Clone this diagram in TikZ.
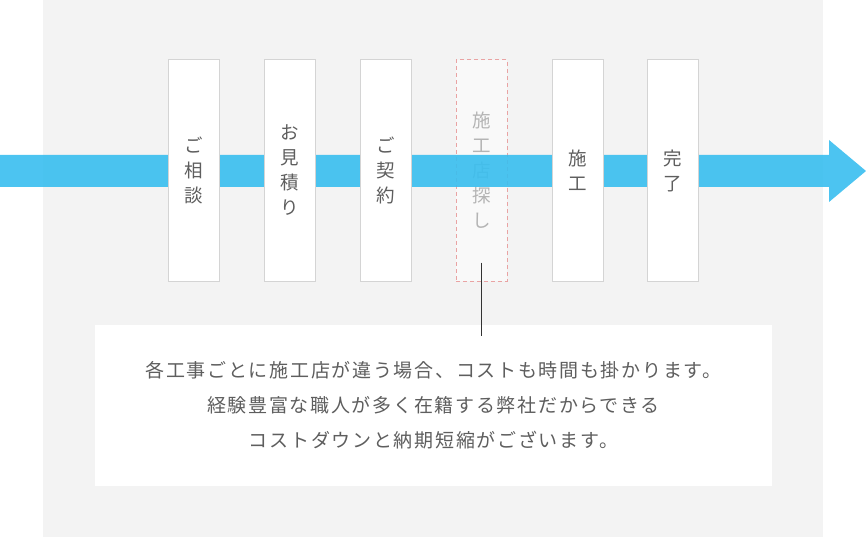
\documentclass[tikz,border=0pt]{standalone}
\usepackage{fontspec}
\newfontfamily\jp{Noto Sans CJK JP}
\newfontfamily\jpsp[LetterSpace=9]{Noto Sans CJK JP}
\definecolor{bggray}{HTML}{F3F3F3}
\definecolor{arrowblue}{HTML}{38BEEF}
\definecolor{boxline}{HTML}{D4D4D4}
\definecolor{txt}{HTML}{5E5E5E}
\definecolor{paletxt}{HTML}{B4B4B4}
\definecolor{dashred}{HTML}{E9A3A3}
\definecolor{pendfill}{HTML}{F9F9F9}
\definecolor{linedark}{HTML}{333333}
\begin{document}
\begin{tikzpicture}[x=1pt,y=-1pt,
  stepbox/.style={draw=boxline, line width=1pt, fill=white, minimum width=51pt,
    minimum height=221pt, inner sep=0pt, text=txt, align=center,
    font=\jp\fontsize{18.5}{25}\selectfont},
  pendbox/.style={stepbox, draw=dashred, dash pattern=on 4pt off 3pt,
    fill=pendfill, text=paletxt},
  notebox/.style={fill=white, minimum width=677pt, minimum height=161pt,
    inner sep=0pt, text=txt, align=center, font=\jpsp\fontsize{19}{35}\selectfont},
  link/.style={draw=linedark, line width=1pt}
]
\useasboundingbox (0,0) rectangle (866,537);
\fill[bggray] (43,0) rectangle (823,537);
\node[pendbox] (s4) at (481.5,170.5) {施\\工\\店\\探\\し};
\fill[arrowblue, opacity=0.9] (0,155) -- (829,155) -- (829,140) -- (866,171) -- (829,202)
  -- (829,187) -- (0,187) -- cycle;
\node[stepbox] (s1) at (193.5,170.5) {ご\\相\\談};
\node[stepbox] (s2) at (289.5,170.5) {お\\見\\積\\り};
\node[stepbox] (s3) at (385.5,170.5) {ご\\契\\約};
\node[stepbox] (s5) at (577.5,170.5) {施\\工};
\node[stepbox] (s6) at (672.5,170.5) {完\\了};
\node[notebox] (note) at (433.5,405.5)
  {各工事ごとに施工店が違う場合、コストも時間も掛かります。\\
   経験豊富な職人が多く在籍する弊社だからできる\\
   コストダウンと納期短縮がございます。};
\coordinate (nt) at (s4.south |- note.north);
\draw[link] ([yshift=19pt]s4.south) -- ([yshift=-11pt]nt);
\end{tikzpicture}
\end{document}
